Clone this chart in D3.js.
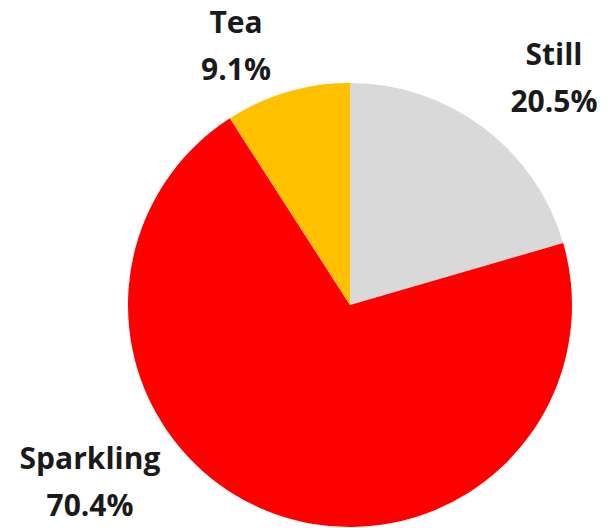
<!DOCTYPE html>
<html lang="en">
<head>
    <meta charset="UTF-8">
    <title>Drinks pie</title>
    <script src="https://d3js.org/d3.v7.min.js"></script>
    <style>
    body { margin: 0; background: #fff; }
    .label {
      font-family: "Open Sans", sans-serif;
      font-weight: 700;
      font-size: 30px;
      fill: #1a1a1a;
    }
    </style>
</head>
<body>
    <svg id="pie" width="608" height="528"></svg>
    <script>
        // data
        const categories = ["Still", "Sparkling", "Tea"];
        const shares = [20.5, 70.4, 9.1];
        const colors = ["#d9d9d9", "#ff0000", "#ffc000"];

        const svg = d3.select("#pie");
        const cx = 350, cy = 305, radius = 222;

        const chart = svg.append("g")
                        .attr("transform", `translate(${cx},${cy})`);

        const pie = d3.pie().sort(null).value(d => d.value);
        const arc = d3.arc().innerRadius(0).outerRadius(radius);

        const slices = pie(categories.map((c, i) => ({ name: c, value: shares[i], color: colors[i] })));

        chart.selectAll("path.slice").data(slices)
            .join("path")
            .attr("class", "slice")
            .attr("fill", d => d.data.color)
            .attr("d", arc);

        // label spots (relative to pie centre), as Excel placed them
        const labelPos = {
            "Still": [204, -240],
            "Sparkling": [-260, 164],
            "Tea": [-114, -272]
        };

        const labels = chart.selectAll("text.label").data(slices)
            .join("text")
            .attr("class", "label")
            .attr("text-anchor", "middle")
            .attr("x", d => labelPos[d.data.name][0])
            .attr("y", d => labelPos[d.data.name][1]);

        labels.append("tspan")
            .attr("x", d => labelPos[d.data.name][0])
            .text(d => d.data.name);
        labels.append("tspan")
            .attr("x", d => labelPos[d.data.name][0])
            .attr("dy", 47)
            .text(d => d3.format(".1f")(d.data.value) + "%");
    </script>
</body>
</html>
